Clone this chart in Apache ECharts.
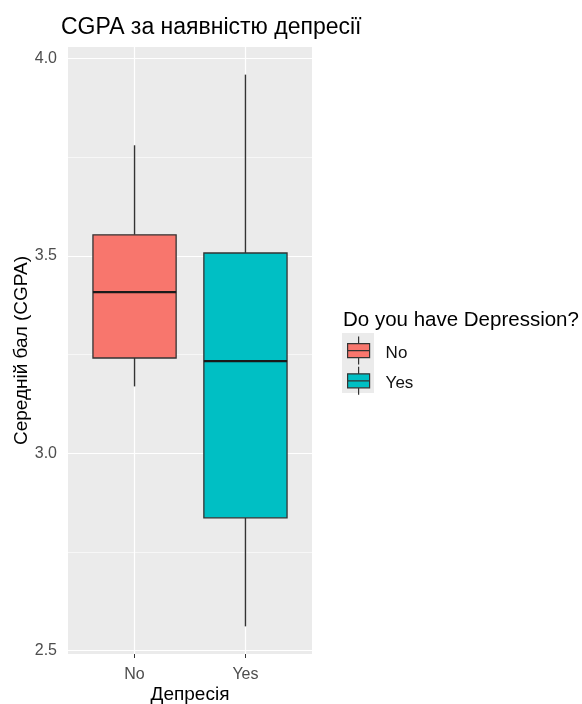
<!DOCTYPE html>
<html>
<head>
<meta charset="utf-8">
<script src="https://cdn.jsdelivr.net/npm/echarts@6/dist/echarts.min.js"></script>
<style>html,body{margin:0;padding:0;background:#fff;}#c{width:582px;height:704px;}</style>
</head>
<body>
<div id="c"></div>
<script>
const categories = ['No', 'Yes'];
// [lower whisker, Q1, median, Q3, upper whisker]
const noStats = [3.169, 3.241, 3.408, 3.553, 3.780];
const yesStats = [2.561, 2.836, 3.233, 3.507, 3.959];
const yTicks = [2.5, 3.0, 3.5, 4.0];
const yMinorTicks = [2.75, 3.25, 3.75];
const groupColors = ['#F8766D', '#00BFC4'];

const font = 'Liberation Sans, Arial, sans-serif';

function renderBox(params, api) {
  const x = api.value(0);
  const lo = api.value(1), q1 = api.value(2), med = api.value(3), q3 = api.value(4), hi = api.value(5);
  const halfW = api.size([0.75, 0])[0] / 2;
  const pHi = api.coord([x, hi]), pQ3 = api.coord([x, q3]), pMed = api.coord([x, med]),
        pQ1 = api.coord([x, q1]), pLo = api.coord([x, lo]);
  const color = api.visual('color');
  return {
    type: 'group',
    children: [
      { type: 'line', shape: { x1: pHi[0], y1: pHi[1], x2: pQ3[0], y2: pQ3[1] }, style: { stroke: '#333', lineWidth: 1.4 } },
      { type: 'line', shape: { x1: pQ1[0], y1: pQ1[1], x2: pLo[0], y2: pLo[1] }, style: { stroke: '#333', lineWidth: 1.4 } },
      { type: 'rect', shape: { x: pQ3[0] - halfW, y: pQ3[1], width: 2 * halfW, height: pQ1[1] - pQ3[1] },
        style: { fill: color, stroke: '#333', lineWidth: 1.3 } },
      { type: 'line', shape: { x1: pMed[0] - halfW, y1: pMed[1], x2: pMed[0] + halfW, y2: pMed[1] },
        style: { stroke: '#1a1a1a', lineWidth: 2.2 } }
    ]
  };
}

const gridLines = [];
yTicks.forEach(v => gridLines.push({ yAxis: v, lineStyle: { width: 1.2 } }));
yMinorTicks.forEach(v => gridLines.push({ yAxis: v, lineStyle: { width: 0.6 } }));
categories.forEach((c, i) => gridLines.push({ xAxis: i, lineStyle: { width: 1.2 } }));

const boxIcon = 'path://M12,0 L12,7 M1,7 L23,7 L23,21 L1,21 Z M1,14 L23,14 M12,21 L12,28';

const option = {
  animation: false,
  backgroundColor: '#fff',
  title: [
    { text: 'CGPA за наявністю депресії', left: 61, top: 16, padding: 0,
      textStyle: { fontFamily: font, fontSize: 23, fontWeight: 'normal', color: '#000' } },
    { text: 'Do you have Depression?', left: 343, top: 310, padding: 0,
      textStyle: { fontFamily: font, fontSize: 20.5, fontWeight: 'normal', color: '#000' } }
  ],
  graphic: [
    { type: 'rect', left: 342, top: 333, shape: { width: 32, height: 60 }, style: { fill: '#EBEBEB' }, z: 0 }
  ],
  legend: {
    orient: 'vertical', left: 347, top: 336, padding: 0,
    itemWidth: 24, itemHeight: 28, itemGap: 1,
    icon: boxIcon,
    itemStyle: { borderColor: '#333', borderWidth: 1.2 },
    formatter: name => '{t|' + name + '}',
    textStyle: { fontFamily: font, fontSize: 17, color: '#111',
      rich: { t: { fontFamily: font, fontSize: 17, color: '#111', padding: [6, 0, 0, 10] } } },
    data: categories
  },
  grid: { left: 68, top: 47, width: 244, height: 607, outerBoundsMode: 'none', containLabel: false,
    backgroundColor: '#EBEBEB', show: true, borderWidth: 0 },
  xAxis: {
    type: 'value', min: -0.6, max: 1.6,
    name: 'Депресія', nameLocation: 'middle', nameGap: 31.5, nameMoveOverlap: false,
    nameTextStyle: { fontFamily: font, fontSize: 19, color: '#000' },
    axisLine: { show: false },
    axisTick: { show: true, length: 4, lineStyle: { color: '#333', width: 1 }, customValues: [0, 1] },
    axisLabel: { customValues: [0, 1], margin: 13, fontFamily: font, fontSize: 16, color: '#4D4D4D',
      formatter: v => categories[Math.round(v)] },
    splitLine: { show: false }
  },
  yAxis: {
    type: 'value', min: 2.491, max: 4.029,
    name: 'Середній бал (CGPA)', nameLocation: 'middle', nameGap: 37, nameMoveOverlap: false,
    nameTextStyle: { fontFamily: font, fontSize: 19, color: '#000' },
    axisLine: { show: false },
    axisTick: { show: true, length: 4, lineStyle: { color: '#333', width: 1 }, customValues: yTicks },
    axisLabel: { customValues: yTicks, margin: 11, fontFamily: font, fontSize: 16, color: '#4D4D4D',
      formatter: v => Number(v).toFixed(1) },
    splitLine: { show: false }
  },
  series: [
    { type: 'line', data: [], z: 1, silent: true,
      markLine: { z: 1, silent: true, symbol: ['none', 'none'], label: { show: false }, animation: false,
        lineStyle: { color: '#FFFFFF', type: 'solid' }, data: gridLines } },
    { name: categories[0], type: 'custom', z: 10, renderItem: renderBox,
      itemStyle: { color: groupColors[0] },
      encode: { x: 0, y: [1, 2, 3, 4, 5] },
      data: [[0].concat(noStats)] },
    { name: categories[1], type: 'custom', z: 10, renderItem: renderBox,
      itemStyle: { color: groupColors[1] },
      encode: { x: 0, y: [1, 2, 3, 4, 5] },
      data: [[1].concat(yesStats)] }
  ]
};

const chart = echarts.init(document.getElementById('c'), null, { renderer: 'canvas' });
chart.setOption(option);
</script>
</body>
</html>
